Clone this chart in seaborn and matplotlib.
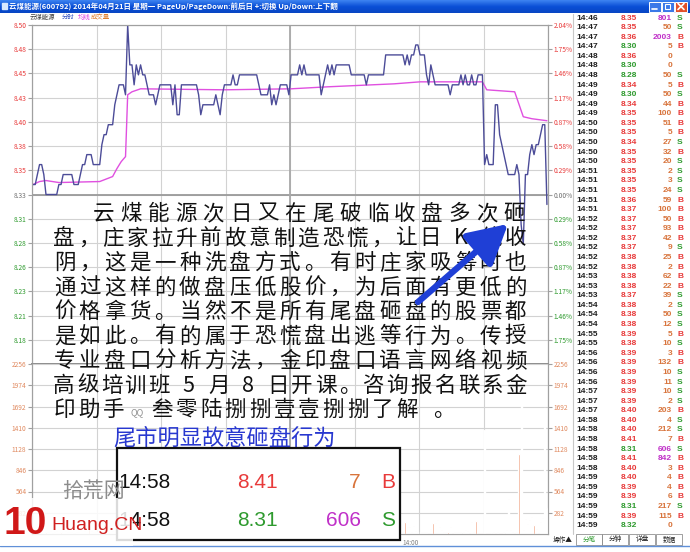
import numpy as np
import pandas as pd
import matplotlib
matplotlib.use("Agg")
import matplotlib.pyplot as plt
import seaborn as sns
from matplotlib.patches import Rectangle

sns.set_theme(style="white")
plt.rcParams['font.family'] = ['Noto Sans CJK SC', 'DejaVu Sans']
plt.rcParams['axes.unicode_minus'] = False

W, H = 690, 552

# ---------------- data ----------------
prev_close = 8.33
price_span = 0.17

# 分时价格, 每分钟一个 (9:30-11:30, 13:00-15:00)
price = [
    8.34, 8.34, 8.35, 8.36, 8.36, 8.35, 8.33, 8.33, 8.33, 8.33, 8.33, 8.33, 8.34, 8.34, 8.35,
    8.35, 8.35, 8.35, 8.35, 8.34, 8.34, 8.34, 8.35, 8.36, 8.36, 8.37, 8.37, 8.37, 8.36, 8.36,
    8.36, 8.36, 8.38, 8.39, 8.39, 8.40, 8.40, 8.40, 8.42, 8.43, 8.44, 8.44, 8.44, 8.43, 8.50,
    8.46, 8.46, 8.44, 8.46, 8.45, 8.46, 8.45, 8.45, 8.44, 8.43, 8.43, 8.43, 8.42, 8.43, 8.44,
    8.44, 8.44, 8.44, 8.44, 8.44, 8.42, 8.44, 8.41, 8.41, 8.44, 8.44, 8.44, 8.44, 8.44, 8.44,
    8.44, 8.44, 8.43, 8.41, 8.42, 8.42, 8.42, 8.42, 8.42, 8.42, 8.43, 8.42, 8.41, 8.43, 8.44,
    8.44, 8.44, 8.44, 8.45, 8.44, 8.44, 8.45, 8.45, 8.45, 8.45, 8.45, 8.45, 8.45, 8.45, 8.45,
    8.44, 8.43, 8.43, 8.43, 8.43, 8.44, 8.42, 8.43, 8.42, 8.43, 8.44, 8.44, 8.44, 8.44, 8.43,
    8.45, 8.45, 8.45, 8.45, 8.46, 8.45, 8.46, 8.45, 8.45, 8.45, 8.45, 8.45, 8.45, 8.45, 8.43,
    8.44, 8.45, 8.46, 8.45, 8.46, 8.45, 8.46, 8.46, 8.46, 8.46, 8.46, 8.46, 8.46, 8.45, 8.45,
    8.45, 8.45, 8.45, 8.45, 8.45, 8.44, 8.45, 8.45, 8.45, 8.45, 8.45, 8.45, 8.45, 8.45, 8.47,
    8.47, 8.47, 8.47, 8.47, 8.47, 8.47, 8.47, 8.47, 8.46, 8.47, 8.46, 8.47, 8.47, 8.48, 8.48,
    8.47, 8.47, 8.47, 8.45, 8.44, 8.46, 8.45, 8.44, 8.44, 8.44, 8.44, 8.44, 8.44, 8.44, 8.43,
    8.44, 8.44, 8.44, 8.44, 8.45, 8.44, 8.45, 8.44, 8.44, 8.45, 8.44, 8.44, 8.45, 8.45, 8.45,
    8.36, 8.37, 8.36, 8.36, 8.36, 8.42, 8.42, 8.39, 8.38, 8.37, 8.36, 8.35, 8.35, 8.35, 8.35,
    8.36, 8.35, 8.30, 8.28, 8.35, 8.35, 8.37, 8.38, 8.37, 8.38, 8.38, 8.39, 8.40, 8.40, 8.32,
]

# 成交量 (手)
volume = [
    180, 95, 60, 120, 45, 70, 30, 25, 40, 15, 20, 35, 60, 30, 85, 40, 25, 20, 30, 15,
    20, 25, 55, 70, 40, 110, 60, 35, 25, 30, 20, 15, 90, 130, 70, 150, 60, 40, 210, 260,
    180, 120, 90, 60, 320, 200, 150, 80, 110, 60, 90, 50, 40, 60, 80, 30, 25, 45, 40, 35,
    30, 25, 20, 35, 40, 60, 45, 80, 50, 70, 30, 20, 15, 25, 20, 10, 15, 30, 60, 40,
    20, 15, 10, 20, 25, 35, 30, 45, 50, 40, 25, 20, 15, 40, 30, 20, 35, 25, 15, 10,
    20, 15, 10, 20, 25, 40, 55, 30, 20, 15, 35, 60, 40, 50, 30, 45, 20, 15, 10, 30,
    60, 40, 25, 30, 50, 35, 45, 20, 15, 25, 10, 20, 15, 10, 70, 40, 35, 55, 30, 45,
    25, 40, 20, 15, 10, 20, 25, 15, 30, 20, 15, 10, 20, 25, 15, 40, 30, 20, 15, 10,
    20, 15, 25, 20, 90, 60, 40, 30, 35, 25, 20, 30, 25, 160, 90, 90, 30, 110, 40, 20,
    25, 20, 30, 25, 15, 60, 146, 146, 186, 90, 50, 30, 30, 20, 90, 15, 25, 30, 30, 30,
    20, 50, 40, 15, 160, 20, 170, 15, 10, 15, 1380, 15, 15, 10, 20, 15, 20, 10, 15, 30,
    50, 464, 50, 20, 15, 30, 1062, 2058, 50, 199, 135, 188, 221, 123, 64, 15, 156, 215, 1674, 346,
]

# 均价线 (拐点)
avg_minute = [0, 3, 6, 12, 31, 37, 39, 41, 43, 44, 46, 50, 89, 120, 137, 168, 180, 209, 211,
              224, 228, 232, 239]
avg_price = [8.340, 8.343, 8.344, 8.342, 8.343, 8.348, 8.356, 8.363, 8.368, 8.430, 8.433,
             8.436, 8.435, 8.436, 8.438, 8.441, 8.443, 8.443, 8.435, 8.433, 8.408, 8.406, 8.404]

price_labels = ["8.18", "8.21", "8.23", "8.26", "8.28", "8.31", "8.33",
                "8.35", "8.38", "8.40", "8.43", "8.45", "8.48", "8.50"]
pct_labels = ["1.75%", "1.46%", "1.17%", "0.87%", "0.58%", "0.29%", "0.00%",
              "0.29%", "0.58%", "0.87%", "1.17%", "1.46%", "1.75%", "2.04%"]
vol_labels = ["282", "564", "846", "1128", "1410", "1692", "1974", "2256"]

# 分笔成交
tick_time = ["14:46", "14:47", "14:47", "14:47", "14:48", "14:48", "14:48", "14:49", "14:49",
             "14:49", "14:49", "14:50", "14:50", "14:50", "14:50", "14:50", "14:51", "14:51",
             "14:51", "14:51", "14:51", "14:52", "14:52", "14:52", "14:52", "14:52", "14:52",
             "14:53", "14:53", "14:53", "14:54", "14:54", "14:54", "14:55", "14:55", "14:56",
             "14:56", "14:56", "14:56", "14:57", "14:57", "14:57", "14:58", "14:58", "14:58",
             "14:58", "14:58", "14:58", "14:59", "14:59", "14:59", "14:59", "14:59", "14:59"]
tick_price = [8.35, 8.35, 8.36, 8.30, 8.36, 8.30, 8.28, 8.34, 8.30, 8.34, 8.35, 8.35, 8.35,
              8.34, 8.35, 8.35, 8.35, 8.35, 8.35, 8.36, 8.37, 8.37, 8.37, 8.37, 8.37, 8.38,
              8.38, 8.38, 8.38, 8.37, 8.38, 8.38, 8.38, 8.39, 8.38, 8.39, 8.39, 8.39, 8.39,
              8.39, 8.39, 8.40, 8.40, 8.40, 8.41, 8.31, 8.41, 8.40, 8.40, 8.39, 8.39, 8.31,
              8.39, 8.32]
tick_vol = [801, 50, 2003, 5, 0, 0, 50, 5, 50, 44, 100, 51, 5, 27, 32, 20, 2, 3, 24, 59, 100,
            50, 93, 42, 9, 25, 2, 62, 22, 39, 2, 50, 12, 5, 10, 3, 132, 10, 11, 10, 2, 203,
            4, 212, 7, 606, 842, 3, 4, 4, 6, 217, 115, 0]
tick_side = ["S", "S", "B", "B", "", "", "S", "B", "S", "B", "B", "B", "B", "S", "B", "S",
             "S", "S", "S", "B", "B", "B", "B", "B", "S", "B", "B", "B", "B", "S", "S", "S",
             "S", "B", "S", "B", "B", "S", "S", "S", "S", "B", "S", "S", "B", "S", "B", "B",
             "B", "B", "B", "S", "B", ""]

title_text = "云煤能源(600792) 2014年04月21日 星期一 PageUp/PageDown:前后日 +:切换 Up/Down:上下翻"
note_lines = [
    "云煤能源次日又在尾破临收盘多次砸",
    "盘，庄家拉升前故意制造恐慌，让日 K 线收",
    "阴，这是一种洗盘方式。有时庄家吸筹时也",
    "通过这样的做盘压低股价，为后面有更低的",
    "价格拿货。当然不是所有尾盘砸盘的股票都",
    "是如此。有的属于恐慌盘出逃等行为。传授",
    "专业盘口分析方法，金印盘口语言网络视频",
    "高级培训班 5 月 8 日开课。咨询报名联系金",
]
note_last = ["印助手", "QQ", "叁零陆捌捌壹壹捌捌了解 。"]
subtitle = "尾市明显故意砸盘行为"
box_rows = [("14:58", "8.41", "7", "B"), ("14:58", "8.31", "606", "S")]

RED = "#e83a3a"
GREEN = "#2e9a2e"
ORANGE = "#d8743c"
PURPLE = "#c030c8"
GRID = "#d2d2d2"


def rect(x0, y0, x1, y1):
    return [x0 / W, 1 - y1 / H, (x1 - x0) / W, (y1 - y0) / H]


fig = plt.figure(figsize=(6.9, 5.52), dpi=100)
fig.patch.set_facecolor("white")

# ---------------- price panel ----------------
ax_p = fig.add_axes(rect(32, 25, 548, 364))
df = pd.DataFrame({"x": np.arange(len(price)) + 0.5, "price": price})
df_avg = pd.DataFrame({"x": np.array(avg_minute) + 0.5, "avg": avg_price})
sns.lineplot(data=df_avg, x="x", y="avg", ax=ax_p, color="#e050e0", lw=1.0, zorder=3)
sns.lineplot(data=df, x="x", y="price", ax=ax_p, color="#4c4c98", lw=1.0, zorder=4)

lo, hi = prev_close - price_span, prev_close + price_span
ax_p.set_xlim(0, 240)
ax_p.set_ylim(lo, hi)
yt = np.linspace(lo, hi, 15)[1:]
ax_p.set_yticks(yt)
ax_p.set_yticklabels(price_labels)
for lab, t in zip(ax_p.get_yticklabels(), price_labels):
    v = float(t)
    lab.set_color(RED if v > prev_close else (GREEN if v < prev_close else "#707070"))
ax_p.set_xticks(np.arange(0, 241, 30))
ax_p.set_xticklabels([])
ax_p.grid(True, color=GRID, lw=0.8)
ax_p.axhline(prev_close, color="#9a9a9a", lw=1.3, zorder=2)
ax_p.axvline(120, color="#a8a8a8", lw=1.3, zorder=2)
ax_p.set_xlabel("")
ax_p.set_ylabel("")
ax_p.tick_params(axis="y", length=3, width=0.8, color="#a0a0a0", labelsize=4.8, pad=1)
ax_p.tick_params(axis="x", length=0)

ax_r = ax_p.twinx()
ax_r.set_ylim(lo, hi)
ax_r.set_yticks(yt)
ax_r.set_yticklabels(pct_labels)
for i, lab in enumerate(ax_r.get_yticklabels()):
    v = yt[i]
    lab.set_color(RED if v > prev_close + 1e-6 else (GREEN if v < prev_close - 1e-6 else "#707070"))
ax_r.tick_params(axis="y", length=3, width=0.8, color="#a0a0a0", labelsize=4.8, pad=1)
ax_r.grid(False)

for a in (ax_p, ax_r):
    for s in a.spines.values():
        s.set_color("#a0a0a0")
        s.set_linewidth(0.8)
    a.spines["bottom"].set_color("#909090")
    a.spines["bottom"].set_linewidth(1.3)

# ---------------- volume panel ----------------
ax_v = fig.add_axes(rect(32, 364, 548, 534))
ax_v.bar(np.arange(len(volume)) + 0.5, volume, width=0.5, color="#f0a080", zorder=3)
ax_v.set_xlim(0, 240)
ax_v.set_ylim(0, 2256)
vt = np.arange(1, 9) * 282
ax_v.set_yticks(vt)
ax_v.set_yticklabels(vol_labels)
ax_v.set_xticks(np.arange(0, 241, 30))
ax_v.set_xticklabels([])
ax_v.grid(True, color=GRID, lw=0.8)
ax_v.axvline(120, color="#a8a8a8", lw=1.3, zorder=2)
ax_v.tick_params(axis="y", length=3, width=0.8, color="#a0a0a0", labelsize=4.8, pad=1,
                 labelcolor="#e08a60")
ax_v.tick_params(axis="x", length=0)
ax_v2 = ax_v.twinx()
ax_v2.set_ylim(0, 2256)
ax_v2.set_yticks(vt)
ax_v2.set_yticklabels(vol_labels)
ax_v2.tick_params(axis="y", length=3, width=0.8, color="#a0a0a0", labelsize=4.8, pad=1,
                  labelcolor="#e08a60")
for a in (ax_v, ax_v2):
    for s in a.spines.values():
        s.set_color("#a0a0a0")
        s.set_linewidth(0.8)
    a.spines["top"].set_visible(False)
ax_v.text(180, -60, "14:00", ha="right", va="top", fontsize=4.6, color="#808080")

# ---------------- overlay (pixel coords) ----------------
ov = fig.add_axes([0, 0, 1, 1], zorder=10)
ov.set_xlim(0, W)
ov.set_ylim(H, 0)
ov.axis("off")
ov.patch.set_alpha(0)

# title bar
grad = np.linspace(0, 1, 20).reshape(-1, 1)
ov.imshow(grad, extent=(0, W, 13, 0), cmap=matplotlib.colors.LinearSegmentedColormap.from_list(
    "tb", ["#3c82f0", "#0a4fd6", "#0846c4"]), aspect="auto", zorder=1)
ov.text(9, 6.5, title_text, fontsize=5.4, color="white", fontweight="bold", va="center")
ov.add_patch(Rectangle((2, 3), 5, 6, color="#d8e8ff", zorder=2))
for bx, col in [(649, "#3a78e8"), (662, "#3a78e8"), (675, "#e2502a")]:
    ov.add_patch(Rectangle((bx, 1.5), 12, 10, facecolor=col, edgecolor="white", lw=0.7, zorder=2))
ov.plot([652, 657], [9, 9], color="white", lw=1.2, zorder=3)
ov.add_patch(Rectangle((665, 4), 5, 4.5, fill=False, edgecolor="white", lw=0.8, zorder=3))
ov.plot([678, 684], [3.5, 9.5], color="white", lw=1.2, zorder=3)
ov.plot([678, 684], [9.5, 3.5], color="white", lw=1.2, zorder=3)

# chart header
ov.text(30, 17, "云煤能源", fontsize=4.6, color="#404040", va="center")
ov.text(62, 17, "分时", fontsize=4.6, color="#3050c0", va="center")
ov.text(78, 17, "均线", fontsize=4.6, color="#e040e0", va="center")
ov.text(91, 17, "成交量", fontsize=4.6, color="#e08030", va="center")

# tick table
ov.plot([573, 573], [14, 534], color="#c8c8c8", lw=0.8)
for i in range(len(tick_time)):
    y = 18 + i * 9.58
    p = tick_price[i]
    ov.text(576, y, tick_time[i], fontsize=6.0, fontweight="bold", color="#202020",
            va="center", family="Liberation Sans")
    ov.text(637, y, f"{p:.2f}", fontsize=6.0, fontweight="bold", va="center", ha="right",
            color=RED if p > prev_close else GREEN, family="Liberation Sans")
    v = tick_vol[i]
    ov.text(672, y, str(v), fontsize=6.0, fontweight="bold", va="center", ha="right",
            color=PURPLE if v >= 500 else ORANGE, family="Liberation Sans")
    sd = tick_side[i]
    if sd:
        ov.text(677, y, sd, fontsize=6.0, fontweight="bold", va="center",
                color=RED if sd == "B" else GREEN, family="Liberation Sans")

# bottom tabs
ov.plot([0, W], [546, 546], color="#6090d8", lw=1.0)
ov.text(553, 540, "操作▲", fontsize=4.8, color="#202020", va="center")
for x0, lab, col in [(576, "分笔", GREEN), (602, "分钟", "#202020"),
                     (629, "详盘", "#202020"), (656, "数据", "#202020")]:
    ov.add_patch(Rectangle((x0, 534), 26, 11, fill=False, edgecolor="#909090", lw=0.6))
    ov.text(x0 + 13, 539.5, lab, fontsize=4.8, color=col, ha="center", va="center")

TXT = 15.5


# annotation text, justified lines
def put_line(s, x0, x1, y, size):
    units = [0.5 if ord(c) < 128 else 1.0 for c in s]
    step = (x1 - x0) / sum(units)
    pos = x0
    for c, u in zip(s, units):
        if c != " ":
            ov.text(pos + u * step / 2, y, c, ha="center", va="center", fontsize=size,
                    color="#111111")
        pos += u * step


line_y = [214 + 24.5 * k for k in range(9)]
put_line(note_lines[0], 90, 528, line_y[0], TXT)
for k in range(1, 8):
    put_line(note_lines[k], 52, 528, line_y[k], TXT)
adv = 24.5
xx = 52
for c in note_last[0]:
    ov.text(xx + adv / 2, line_y[8], c, ha="center", va="center", fontsize=TXT,
            color="#111111")
    xx += adv
ov.text(xx + 12, line_y[8] + 3, note_last[1], ha="center", va="center", fontsize=6.5,
        color="#909090")
xx += 24
for c in note_last[2]:
    if c != " ":
        ov.text(xx + adv / 2, line_y[8], c, ha="center", va="center", fontsize=TXT,
                color="#111111")
    xx += adv if ord(c) >= 128 else adv / 2

ov.text(113, 438, subtitle, fontsize=16, color="#2838d0", va="center")

# arrow
ov.annotate("", xy=(508, 224), xytext=(418, 302),
            arrowprops=dict(arrowstyle="-|>,head_length=2.0,head_width=1.1",
                            color="#1f3fd6", lw=4.5, shrinkA=0, shrinkB=0))

# inset box
ov.add_patch(Rectangle((117, 448), 283, 92, facecolor="white", edgecolor="#111111", lw=1.6,
                       zorder=5))
BOX = 15
for r, (t, p, v, sd) in enumerate(box_rows):
    y = 483 + r * 37
    pc = float(p)
    ov.text(171, y, t, ha="right", va="center", fontsize=BOX, color="#111111",
            family="Liberation Sans", zorder=6)
    ov.text(278, y, p, ha="right", va="center", fontsize=BOX,
            color=RED if pc > prev_close else GREEN, family="Liberation Sans", zorder=6)
    ov.text(361, y, v, ha="right", va="center", fontsize=BOX,
            color=PURPLE if int(v) >= 500 else ORANGE, family="Liberation Sans", zorder=6)
    ov.text(381, y, sd, ha="left", va="center", fontsize=BOX,
            color=RED if sd == "B" else GREEN, family="Liberation Sans", zorder=6)

# watermark
ov.add_patch(Rectangle((0, 498), 133, 48, facecolor="white", alpha=0.85, lw=0, zorder=7))
ov.text(4, 524, "10", fontsize=28, fontweight="bold", color="#d01818", va="center",
        family="Liberation Sans", zorder=8)
ov.text(62, 491, "拾荒网", fontsize=15, color="#8c8c8c", va="center", zorder=8)
ov.text(51, 526, "Huang.CN", fontsize=14, color="#d02020", va="center",
        family="Liberation Sans", zorder=8)

fig.savefig("out.png", dpi=100, facecolor="white")
